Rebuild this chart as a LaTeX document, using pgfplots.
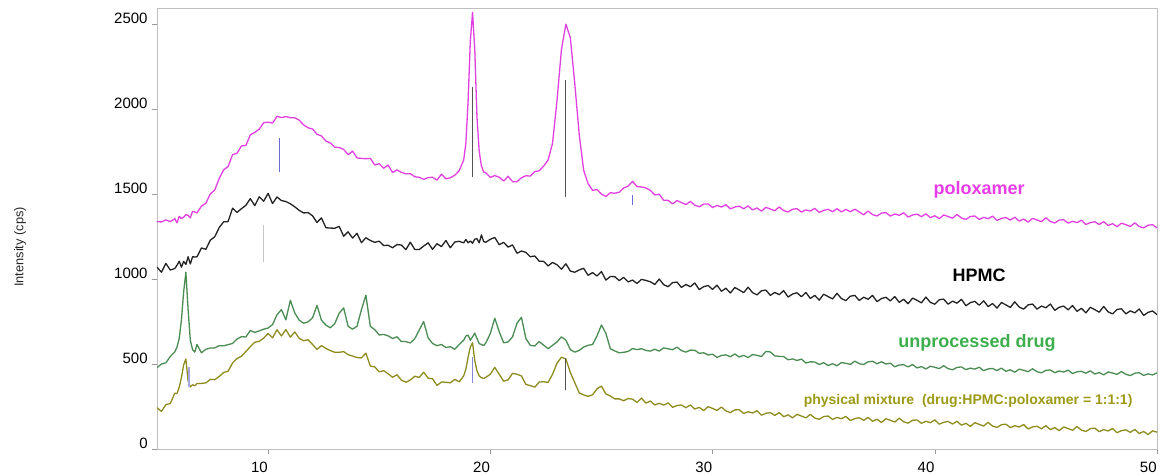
\documentclass[border=0pt]{standalone}
\usepackage{fontspec}
\setmainfont{Liberation Sans}
\usepackage{pgfplots}
\usepackage{pgfplotstable}
\pgfplotsset{compat=1.18}
\definecolor{polox}{HTML}{E040E0}
\definecolor{poloxtxt}{HTML}{E83BE8}
\definecolor{hpmc}{HTML}{222222}
\definecolor{drug}{HTML}{4A8C52}
\definecolor{drugtxt}{HTML}{3CAF4C}
\definecolor{mix}{HTML}{8E8C1E}
\definecolor{mixtxt}{HTML}{9C9A14}
\definecolor{stickblue}{HTML}{6A6AD0}
\definecolor{stickgray}{HTML}{555555}

% 2theta, poloxamer, HPMC, unprocessed drug, physical mixture
\pgfplotstableread{
x P H D M
5.0 1338 1070 479 243
5.2 1336 1040 500 221
5.4 1348 1092 507 261
5.6 1338 1053 545 268
5.8 1355 1062 571 328
5.9 1331 1081 600 326
6.0 1369 1105 650 364
6.1 1356 1070 760 420
6.2 1364 1104 925 495
6.3 1379 1086 1040 530
6.4 1375 1131 820 400
6.5 1360 1089 640 365
6.6 1398 1131 585 378
6.7 1395 1130 570 372
6.8 1389 1131 615 385
7.0 1429 1183 566 386
7.2 1447 1175 587 389
7.4 1501 1229 594 410
7.6 1524 1249 595 408
7.8 1592 1303 608 427
8.0 1643 1337 607 450
8.2 1662 1338 614 458
8.4 1732 1417 621 506
8.6 1740 1392 647 532
8.8 1783 1414 661 546
9.0 1786 1434 659 574
9.2 1849 1473 697 602
9.4 1863 1432 686 628
9.6 1882 1484 695 634
9.8 1920 1458 705 652
10.0 1923 1504 712 680
10.2 1918 1444 732 654
10.4 1958 1483 790 702
10.6 1950 1462 820 665
10.8 1956 1456 760 703
11.0 1949 1443 875 658
11.2 1949 1425 800 689
11.4 1935 1404 758 651
11.6 1907 1389 740 637
11.8 1890 1391 748 643
12.0 1883 1372 772 615
12.2 1852 1333 845 586
12.4 1842 1360 758 608
12.6 1812 1302 729 592
12.8 1801 1300 713 579
13.0 1776 1299 738 569
13.2 1774 1310 800 569
13.4 1763 1252 830 573
13.6 1732 1278 722 555
13.8 1753 1241 705 547
14.0 1713 1269 722 538
14.2 1710 1214 820 536
14.4 1708 1243 905 564
14.6 1710 1227 722 488
14.8 1671 1216 702 483
15.0 1679 1223 671 454
15.2 1652 1197 674 461
15.4 1671 1199 666 443
15.6 1627 1184 650 422
15.8 1642 1203 660 437
16.0 1628 1200 632 405
16.2 1619 1173 632 393
16.4 1620 1217 624 406
16.6 1602 1174 649 428
16.8 1599 1174 700 421
17.0 1586 1194 750 452
17.2 1597 1213 654 417
17.4 1599 1175 621 413
17.6 1582 1208 608 374
17.8 1617 1191 615 394
18.0 1590 1227 597 393
18.2 1596 1184 602 389
18.4 1611 1218 587 410
18.6 1638 1222 615 395
18.8 1700 1213 640 430
18.9 1800 1233 665 470
19.0 2050 1213 670 540
19.1 2400 1224 640 600
19.2 2570 1211 660 625
19.3 2350 1235 682 520
19.4 1950 1237 650 460
19.5 1750 1213 620 430
19.6 1665 1260 615 420
19.7 1630 1220 608 415
19.8 1625 1217 625 422
20.0 1598 1234 680 440
20.2 1609 1245 770 480
20.4 1599 1202 690 440
20.6 1577 1216 625 399
20.8 1605 1188 630 407
21.0 1573 1201 660 445
21.2 1573 1152 740 440
21.4 1596 1165 775 430
21.6 1608 1157 650 380
21.8 1606 1131 610 373
22.0 1632 1136 606 364
22.2 1637 1105 632 394
22.4 1665 1104 611 396
22.6 1700 1077 590 392
22.8 1800 1098 610 440
23.0 2050 1084 630 505
23.2 2350 1058 660 540
23.4 2500 1090 640 530
23.6 2420 1047 585 450
23.8 2150 1040 570 390
24.0 1850 1054 580 330
24.2 1640 1063 600 318
24.4 1561 1022 610 310
24.6 1522 1038 615 319
24.8 1527 1018 665 354
25.0 1500 1044 730 370
25.2 1486 994 680 324
25.4 1508 1015 590 312
25.6 1505 1014 577 295
25.8 1511 991 566 295
26.0 1536 1010 569 284
26.2 1547 983 574 297
26.4 1575 994 591 293
26.6 1544 974 585 274
26.8 1542 998 590 300
27.0 1536 992 580 270
27.2 1522 984 576 282
27.4 1495 968 587 259
27.6 1499 1000 576 269
27.8 1464 967 595 258
28.0 1463 955 590 271
28.2 1442 979 584 245
28.4 1462 982 599 256
28.6 1450 951 579 259
28.8 1438 968 570 243
29.0 1457 955 582 259
29.2 1435 977 581 235
29.4 1425 938 563 245
29.6 1441 955 566 226
29.8 1442 962 553 249
30.0 1421 939 558 239
30.2 1433 964 539 227
30.4 1424 928 550 247
30.6 1438 946 554 224
30.8 1413 918 543 214
31.0 1424 950 559 230
31.2 1429 936 541 231
31.4 1414 920 551 209
31.6 1430 952 538 219
31.8 1407 920 556 212
32.0 1418 907 551 225
32.2 1400 931 544 199
32.4 1422 935 574 210
32.6 1412 904 571 214
32.8 1402 921 548 198
33.0 1424 908 545 214
33.2 1403 932 544 190
33.4 1395 894 525 201
33.6 1411 912 530 183
33.8 1414 919 521 204
34.0 1394 896 529 194
34.2 1407 921 506 183
34.4 1400 886 513 204
34.6 1416 904 512 182
34.8 1392 876 497 175
35.0 1404 911 508 191
35.2 1410 897 491 194
35.4 1396 883 502 174
35.6 1414 916 490 186
35.8 1395 885 509 178
36.0 1410 873 504 192
36.2 1396 899 498 167
36.4 1411 904 517 179
36.6 1395 874 502 184
36.8 1378 893 497 169
37.0 1400 881 513 186
37.2 1379 904 516 163
37.4 1371 867 502 175
37.6 1388 885 513 156
37.8 1391 893 500 178
38.0 1371 871 505 169
38.2 1383 897 484 159
38.4 1375 863 494 181
38.6 1390 881 496 160
38.8 1365 855 483 152
39.0 1377 888 497 169
39.2 1382 875 477 171
39.4 1367 860 485 151
39.6 1384 894 471 163
39.8 1361 863 487 155
40.0 1373 852 481 171
40.2 1355 878 473 146
40.4 1377 882 490 157
40.6 1368 852 473 162
40.8 1358 870 466 147
41.0 1380 858 480 163
41.2 1359 881 483 140
41.4 1351 843 467 151
41.6 1368 861 476 133
41.8 1371 869 470 155
42.0 1351 846 481 145
42.2 1363 872 461 135
42.4 1355 838 471 157
42.6 1370 856 474 135
42.8 1345 829 462 127
43.0 1357 862 476 143
43.2 1362 848 457 146
43.4 1347 833 466 126
43.6 1364 866 452 137
43.8 1341 835 470 129
44.0 1353 823 463 144
44.2 1335 848 455 118
44.4 1357 853 472 130
44.6 1348 823 455 134
44.8 1338 841 448 119
45.0 1360 831 463 137
45.2 1339 853 465 114
45.4 1330 816 449 126
45.6 1347 834 459 108
45.8 1349 841 453 130
46.0 1329 819 464 120
46.2 1340 844 444 110
46.4 1332 810 454 132
46.6 1346 828 457 111
46.8 1321 801 446 103
47.0 1332 834 460 120
47.2 1337 820 441 123
47.4 1321 805 450 102
47.6 1338 839 436 114
47.8 1315 807 453 106
48.0 1326 795 447 121
48.2 1308 821 439 96
48.4 1329 825 456 108
48.6 1320 795 439 113
48.8 1309 813 432 98
49.0 1331 801 446 115
49.2 1309 824 449 91
49.4 1301 786 433 103
49.6 1317 804 442 85
49.8 1320 812 436 107
50.0 1301 791 448 99
}\xrd

\begin{document}
\begin{tikzpicture}
\begin{axis}[
    scale only axis,
    width=500pt, height=220.5pt,
    xmin=5, xmax=50,
    ymin=0, ymax=2595,
    xtick={10,20,30,40,50},
    ytick={0,500,1000,1500,2000,2500},
    scaled ticks=false,
    tick align=outside,
    major tick length=2.5pt,
    xtick pos=bottom, ytick pos=left,
    axis line style={gray!50},
    tick style={gray!80},
    ticklabel style={font=\fontsize{7.5}{9}\selectfont,
        /pgf/number format/assume math mode=true,
        /pgf/number format/1000 sep={}},
    xticklabel style={anchor=north east, inner sep=0pt, yshift=-4pt},
    yticklabel style={anchor=south east, inner sep=0pt, xshift=-2pt},
    ylabel={Intensity (cps)},
    ylabel style={at={(axis description cs:-0.137,0.458)}, anchor=center,
        font=\fontsize{6.4}{8}\selectfont, text=black!85},
    line join=round,
]
\addplot[color=polox, line width=0.65pt] table[x=x, y=P] {\xrd};
\addplot[color=hpmc, line width=0.65pt] table[x=x, y=H] {\xrd};
\addplot[color=drug, line width=0.65pt] table[x=x, y=D] {\xrd};
\addplot[color=mix, line width=0.65pt] table[x=x, y=M] {\xrd};

% reference sticks
\addplot[color=stickblue, line width=0.5pt] coordinates {(10.5,1630) (10.5,1830)};
\addplot[color=stickgray, line width=0.5pt] coordinates {(19.2,1600) (19.2,2130)};
\addplot[color=stickgray, line width=0.5pt] coordinates {(23.4,1480) (23.4,2170)};
\addplot[color=stickblue, line width=0.5pt] coordinates {(26.4,1435) (26.4,1495)};
\addplot[color=gray!45, line width=0.5pt] coordinates {(9.8,1100) (9.8,1320)};
\addplot[color=stickblue!60, line width=1pt] coordinates {(6.42,365) (6.42,480)};
\addplot[color=stickblue!80, line width=0.6pt] coordinates {(19.2,390) (19.2,540)};
\addplot[color=stickgray, line width=0.5pt] coordinates {(23.4,345) (23.4,535)};

\node[font=\bfseries\fontsize{9}{10}\selectfont, text=poloxtxt] at (axis cs:42.0,1523) {poloxamer};
\node[font=\bfseries\fontsize{9}{10}\selectfont, text=black] at (axis cs:42.0,1023) {HPMC};
\node[font=\bfseries\fontsize{9}{10}\selectfont, text=drugtxt] at (axis cs:41.9,623) {unprocessed drug};
\node[font=\bfseries\fontsize{7}{8}\selectfont, text=mixtxt] at (axis cs:41.5,282) {physical mixture\ \ (drug:HPMC:poloxamer = 1:1:1)};
\end{axis}
\path ([xshift=-78.5pt,yshift=-13pt]current axis.south west) rectangle ([xshift=2pt,yshift=4pt]current axis.north east);
\end{tikzpicture}
\end{document}
